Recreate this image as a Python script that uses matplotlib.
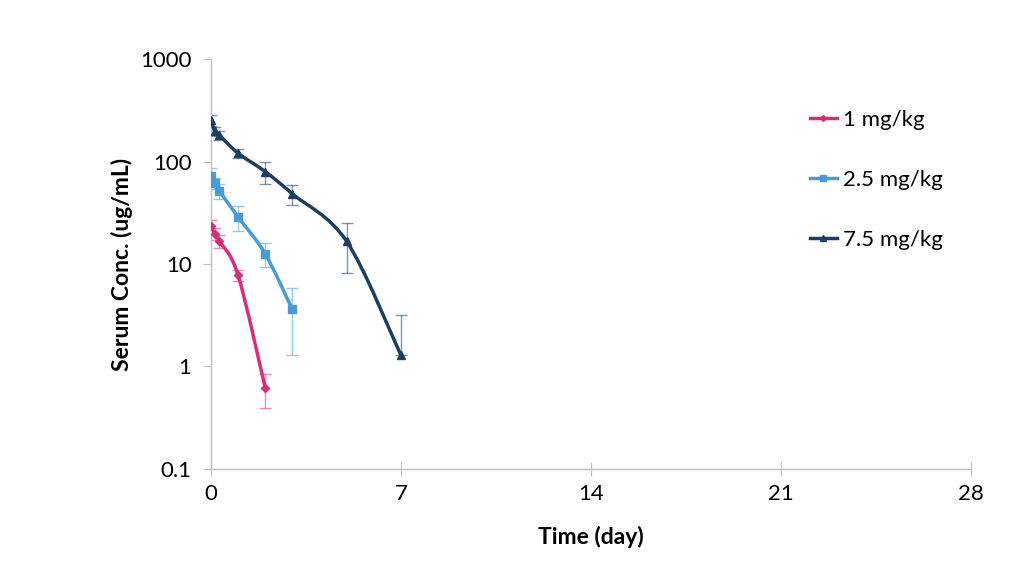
import numpy as np
import matplotlib.pyplot as plt
from matplotlib.path import Path
from matplotlib.patches import PathPatch

plt.rcParams['font.family'] = ['Lato', 'DejaVu Sans']

# time points (day)
t_1 = [0, 0.14, 0.31, 1, 2]
t_25 = [0, 0.14, 0.31, 1, 2, 3]
t_75 = [0, 0.14, 0.31, 1, 2, 3, 5, 7]

# mean serum concentration (ug/mL)
c_1 = [23.7, 19.8, 16.7, 7.8, 0.62]
c_25 = [73, 61.6, 51.9, 28.8, 12.6, 3.6]
c_75 = [255, 199, 182, 121, 80, 48.5, 16.7, 1.29]

# standard deviation
sd_1 = [3.0, 2.5, 2.5, 1.0, 0.23]
sd_25 = [14, 8, 9, 8, 3.3, 2.3]
sd_75 = [30, 20, 18, 12, 19, 11, 8.5, 1.9]

labels = ["1 mg/kg", "2.5 mg/kg", "7.5 mg/kg"]
colors = ["#D62F7A", "#4A9BD0", "#1B3F63"]
markers = ["D", "s", "^"]
msizes = [4.5, 6, 6]


def smooth_path(x, y):
    # Excel-like smoothed line: cubic bezier through points in (x, log y)
    x = np.asarray(x, float)
    ly = np.log10(np.asarray(y, float))
    verts = [(x[0], ly[0])]
    codes = [Path.MOVETO]
    n = len(x)
    for i in range(n - 1):
        p0 = np.array([x[max(i - 1, 0)], ly[max(i - 1, 0)]])
        p1 = np.array([x[i], ly[i]])
        p2 = np.array([x[i + 1], ly[i + 1]])
        p3 = np.array([x[min(i + 2, n - 1)], ly[min(i + 2, n - 1)]])
        c1 = p1 + (p2 - p0) / 6
        c2 = p2 - (p3 - p1) / 6
        verts += [tuple(c1), tuple(c2), tuple(p2)]
        codes += [Path.CURVE4] * 3
    verts = [(vx, 10 ** vy) for vx, vy in verts]
    return Path(verts, codes)


fig = plt.figure(figsize=(10.24, 5.81), dpi=100)
ax = fig.add_axes([0.206, 0.193, 0.742, 0.705])

series = [(t_1, c_1, sd_1), (t_25, c_25, sd_25), (t_75, c_75, sd_75)]
for (t, c, sd), lab, col, mk, ms in zip(series, labels, colors, markers, msizes):
    c = np.array(c)
    sd = np.array(sd)
    lo = np.where(c - sd > 0, sd, 0)
    ax.errorbar(t, c, yerr=[lo, sd], fmt="none", ecolor=col, elinewidth=1,
                capsize=4, capthick=1, alpha=0.55, zorder=2)
    ax.add_patch(PathPatch(smooth_path(t, c), facecolor="none", edgecolor=col,
                           lw=2.5, zorder=3))
    ax.plot(t, c, linestyle="none", marker=mk, color=col, markersize=ms, zorder=4)
    ax.plot([], [], color=col, lw=2.5, marker=mk, markersize=ms - 1.5, label=lab)

ax.set_yscale("log")
ax.set_ylim(0.1, 1000)
ax.set_xlim(0, 28)
ax.set_xticks([0, 7, 14, 21, 28])
ax.set_yticks([0.1, 1, 10, 100, 1000])
ax.set_yticklabels(["0.1", "1", "10", "100", "1000"])
ax.minorticks_off()

for s in ["top", "right"]:
    ax.spines[s].set_visible(False)
for s in ["left", "bottom"]:
    ax.spines[s].set_color("#BFBFBF")
    ax.spines[s].set_linewidth(1)
ax.tick_params(axis="x", direction="inout", length=10, color="#BFBFBF",
               labelsize=16, pad=6)
ax.tick_params(axis="y", direction="out", length=6, color="#BFBFBF",
               labelsize=16, pad=8)

ax.set_xlabel("Time (day)", fontsize=16.5, fontweight="bold", labelpad=16)
ax.set_ylabel("Serum Conc. (ug/mL)", fontsize=16.5, fontweight="bold", labelpad=5)

ax.legend(loc="center left", bbox_to_anchor=(0.762, 0.705), frameon=False,
          fontsize=16, labelspacing=1.8, handlelength=1.2, handletextpad=0.3)

fig.savefig("out.png", dpi=100)
